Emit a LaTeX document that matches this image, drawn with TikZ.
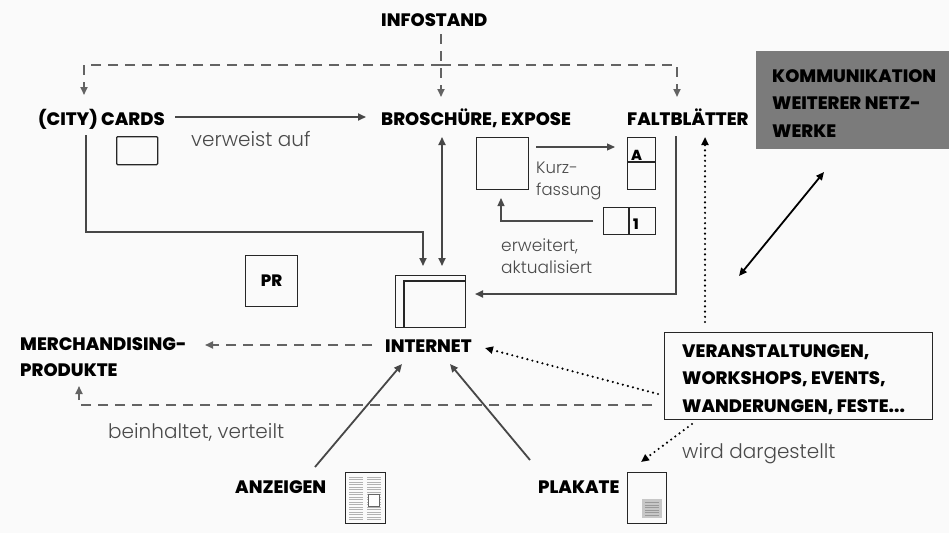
\documentclass[tikz,border=0pt]{standalone}
\usepackage{fontspec}
\setmainfont{Poppins}
\newfontfamily\lightf{Poppins Light}
\newfontfamily\heavyf{Poppins ExtraBold}
\usetikzlibrary{arrows.meta}
\definecolor{bg}{HTML}{FAFAFA}
\definecolor{ln}{HTML}{474747}
\definecolor{lt}{HTML}{4A4A4A}
\definecolor{boxgray}{HTML}{7B7B7B}
\tikzset{
  capt/.style={font=\heavyf\fontsize{18}{27.3}\selectfont, text=black, inner sep=0pt, align=left, anchor=base west},
  lbl/.style={font=\lightf\fontsize{20}{24}\selectfont, text=lt, inner sep=0pt, align=left, anchor=base west},
  tip/.tip={Triangle[length=8pt,width=7pt]},
  sol/.style={draw=ln, line width=1.8pt},
  thinl/.style={draw=lt, line width=1.1pt},
  dsh/.style={draw=ln!85, line width=1.8pt, dash pattern=on 10pt off 7pt},
  dot/.style={draw=black, line width=2.4pt, line cap=round, dash pattern=on 0pt off 5.2pt},
  icon/.style={draw=black!85, line width=1.3pt, inner sep=0pt},
}
\begin{document}
\begin{tikzpicture}[x=1pt,y=-1pt]
\fill[bg] (0,0) rectangle (949,533);
\useasboundingbox (0,0) rectangle (949,533);

% ---------- text nodes (base anchor = baseline of last line) ----------
\node[capt] (info) at (381,26) {INFOSTAND};
\node[capt] (cards) at (38,125) {(CITY) CARDS};
\node[capt] (bro) at (381,125) {BROSCHÜRE, EXPOSE};
\node[capt] (falt) at (627,125) {FALTBLÄTTER};
\node[lbl] (verw) at (191,146) {verweist auf};
\node[lbl,font=\lightf\fontsize{16.5}{22}\selectfont] (kurz) at (536,195) {Kurz-\\fassung};
\node[lbl,font=\lightf\fontsize{17}{22}\selectfont] (erw) at (501,273) {erweitert,\\aktualisiert};
\node[capt] (inet) at (385,352) {INTERNET};
\node[capt,font=\heavyf\fontsize{18}{26}\selectfont] (merch) at (20,376) {MERCHANDISING-\\PRODUKTE};
\node[lbl] (bein) at (108,438) {beinhaltet, verteilt};
\node[capt] (anz) at (235,493) {ANZEIGEN};
\node[capt] (plak) at (538,493) {PLAKATE};
\node[lbl] (wird) at (682,458) {wird dargestellt};

% ---------- boxes ----------
\node[fill=boxgray, inner sep=0pt, minimum width=193pt, minimum height=98pt, anchor=north west] (komm) at (756,51) {};
\node[capt] (kommt) at (772,137) {KOMMUNIKATION\\WEITERER NETZ-\\WERKE};
\node[draw=black!85, line width=1.4pt, inner sep=0pt, minimum width=268pt, minimum height=87pt, anchor=north west] (veran) at (664,332) {};
\node[capt,font=\heavyf\fontsize{18}{27.5}\selectfont] (verant) at (682,412) {VERANSTALTUNGEN,\\WORKSHOPS, EVENTS,\\WANDERUNGEN, FESTE...};
\node[icon, minimum width=52pt, minimum height=51pt, anchor=north west, font=\heavyf\fontsize{16.5}{17}\selectfont] (pr) at (245,255) {PR};

% ---------- icons ----------
\node[icon, minimum width=41pt, minimum height=28pt, anchor=north west, rounded corners=1pt] (card) at (116,136) {};
\node[icon, minimum width=52pt, minimum height=52pt, anchor=north west] (bsq) at (476,137) {};
\node[icon, minimum width=28pt, minimum height=52pt, anchor=north west] (abox) at (627,137) {};
\draw[icon] (627,162) -- (655,162);
\node[font=\heavyf\fontsize{14.5}{15}\selectfont, anchor=base west, inner sep=0pt] (atext) at (631,160) {A};
\node[icon, minimum width=52pt, minimum height=27pt, anchor=north west] (obox) at (603,207) {};
\draw[icon] (629,207) -- (629,234);
\node[font=\heavyf\fontsize{14.5}{15}\selectfont, anchor=base west, inner sep=0pt] (otext) at (633,229) {1};
\node[icon, minimum width=70pt, minimum height=52pt, anchor=north west] (web) at (395,275) {};
\draw[icon] (404,327) -- (404,281) -- (465,281);
% Anzeigen icon
\node[icon, minimum width=40pt, minimum height=51pt, anchor=north west] (anzi) at (345,472) {};
\foreach \yy in {477,479.5,...,520} {
  \draw[black!30, line width=1pt] (349,\yy) -- (363,\yy);
  \draw[black!30, line width=1pt] (367,\yy) -- (381,\yy);
}
\draw[line width=0.9pt, fill=white, draw=black!60] (368,494) rectangle (379,506);
% Plakate icon
\node[icon, minimum width=39pt, minimum height=51pt, anchor=north west] (plaki) at (627,472) {};
\fill[black!22] (642,499) rectangle (662,518);
\foreach \yy in {502.5,505,...,516} {\draw[black!40, line width=0.7pt] (645,\yy) -- (659,\yy);}

% ---------- connectors ----------
\coordinate (iS) at (441,34);
\coordinate (iH) at (441,65);
\draw[dsh,-tip] (iS) -- (441,97);
\draw[dsh,-tip] (iH) -| (84,95);
\draw[dsh,-tip] (iH) -| (677,97);

\draw[sol,-tip] (175,117) -- (366,117);
\draw[sol,-tip] (86,135) |- (423,232) -- (423,266);
\draw[sol,tip-tip] (442,137) -- (442,266);
\draw[sol,-tip] (676,136) |- (475,294);
\draw[thinl,-tip] (536,147) -- (615,147);
\draw[thinl,-tip] (593,221) -| (501,198);
\draw[dot,-tip] (705,322) -- (705,137);
\draw[draw=black, line width=1.8pt,tip-tip] (824,172) -- (739,276);

\draw[dsh,-tip] (372,345) -- (205,345);
\draw[dsh,-tip] (652,405) -| (79,386);
\draw[sol,-tip] (315,467) -- (402,364);
\draw[sol,-tip] (530,460) -- (450,364);
\draw[dot,-tip] (658,394) -- (485,348);
\draw[dot,-tip] (692,424) -- (641,462);
\end{tikzpicture}
\end{document}
